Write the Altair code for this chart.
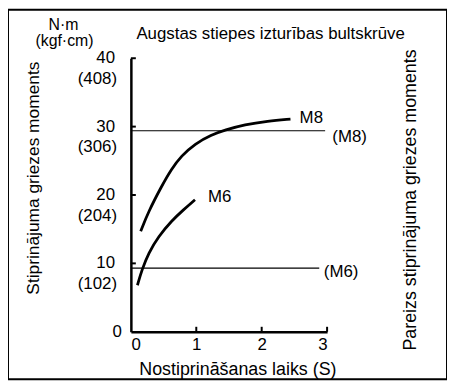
import altair as alt
import pandas as pd

FONT = "Liberation Sans"

# ---- data ----
m8_x = [0.15, 0.27, 0.47, 0.62, 0.77, 0.98, 1.23, 1.44, 1.74, 2.09, 2.44]
m8_y = [14.7, 17.6, 21.3, 23.8, 25.7, 27.5, 28.8, 29.5, 30.3, 30.8, 31.1]
m6_x = [0.10, 0.17, 0.27, 0.42, 0.62, 0.80, 0.98]
m6_y = [6.8, 9.1, 11.5, 13.9, 16.2, 17.8, 19.3]

ref_names = ["M8", "M6"]
ref_values = [29.4, 9.3]
ref_ends = [2.97, 2.88]

ann_text = ["M8", "(M8)", "M6", "(M6)"]
ann_x = [2.58, 3.08, 1.18, 2.95]
ann_y = [31.2, 28.5, 19.7, 8.8]

y_tick_values = [0, 10, 20, 30, 40]
y_tick_kgf = ["", "(102)", "(204)", "(306)", "(408)"]
x_tick_values = [0, 1, 2, 3]

title_text = "Augstas stiepes izturības bultskrūve"
y_title = "Stiprinājuma griezes moments"
y2_title = "Pareizs stiprinājuma griezes moments"
x_title = "Nostiprināšanas laiks (S)"
unit1 = "N·m"
unit2 = "(kgf·cm)"

# ---- tables ----
curves = pd.DataFrame(
    {"x": m8_x + m6_x, "y": m8_y + m6_y, "s": ["M8"] * len(m8_x) + ["M6"] * len(m6_x)}
)
refs = pd.DataFrame({"name": ref_names, "y": ref_values, "x0": [0, 0], "x1": ref_ends})
ann = pd.DataFrame({"t": ann_text, "x": ann_x, "y": ann_y})
yt = pd.DataFrame({"v": y_tick_values, "lab": [str(v) for v in y_tick_values], "kgf": y_tick_kgf})
ytk = yt[yt.v > 0]
xtk = pd.DataFrame({"v": [v for v in x_tick_values if v > 0]})

W, H = 443, 373
xs = alt.Scale(domain=[0, 3], range=[124, 322], nice=False, zero=False)
ys = alt.Scale(domain=[0, 40], range=[325, 49], nice=False, zero=False)

x_axis = alt.Axis(offset=-(H - 325), domainColor="black", domainWidth=2.5, ticks=False,
                  grid=False, values=x_tick_values, format="d", labelFont=FONT,
                  labelFontSize=17, labelColor="black", labelPadding=5, title=None)
y_axis = alt.Axis(offset=-124, domainColor="black", domainWidth=2.5, ticks=False,
                  labels=False, grid=False, title=None)

ref_layer = alt.Chart(refs).mark_rule(color="black", strokeWidth=1.2).encode(
    x=alt.X("x0:Q", scale=xs, axis=x_axis),
    x2="x1:Q",
    y=alt.Y("y:Q", scale=ys, axis=y_axis),
)

curve_layer = alt.Chart(curves).mark_line(color="black", strokeWidth=2.8,
                                          interpolate="basis", strokeCap="butt").encode(
    x=alt.X("x:Q", scale=xs, axis=x_axis),
    y=alt.Y("y:Q", scale=ys, axis=y_axis),
    detail="s:N",
)

ann_layer = alt.Chart(ann).mark_text(align="left", baseline="middle", font=FONT,
                                     fontSize=17, color="black").encode(
    x=alt.X("x:Q", scale=xs, axis=x_axis),
    y=alt.Y("y:Q", scale=ys, axis=y_axis),
    text="t:N",
)

ytick_rules = alt.Chart(ytk).mark_rule(color="black", strokeWidth=2).encode(
    y=alt.Y("v:Q", scale=ys, axis=y_axis),
    x=alt.value(124),
    x2=alt.value(129),
)
xtick_rules = alt.Chart(xtk).mark_rule(color="black", strokeWidth=2).encode(
    x=alt.X("v:Q", scale=xs, axis=x_axis),
    y=alt.value(325),
    y2=alt.value(320),
)

ylab1 = alt.Chart(yt).transform_filter("datum.v > 0").mark_text(
    align="right", baseline="middle", font=FONT, fontSize=17, color="black"
).encode(
    y=alt.Y("v:Q", scale=ys, axis=y_axis),
    x=alt.value(108),
    text="lab:N",
)
ylab0 = alt.Chart(yt).transform_filter("datum.v == 0").mark_text(
    align="right", baseline="middle", font=FONT, fontSize=17, color="black"
).encode(
    y=alt.Y("v:Q", scale=ys, axis=y_axis),
    x=alt.value(115),
    text="lab:N",
)
ylab2 = alt.Chart(yt).mark_text(align="right", baseline="middle", font=FONT,
                                fontSize=17, color="black", dy=21).encode(
    y=alt.Y("v:Q", scale=ys, axis=y_axis),
    x=alt.value(110),
    text="kgf:N",
)

def label(text, x, y, size=17, angle=0):
    return alt.Chart(pd.DataFrame({"t": [text]})).mark_text(
        align="center", baseline="middle", font=FONT, fontSize=size,
        color="black", angle=angle
    ).encode(x=alt.value(x), y=alt.value(y), text="t:N")

chart = alt.layer(
    ref_layer, curve_layer, ann_layer, ytick_rules, xtick_rules, ylab1, ylab0, ylab2,
    label(title_text, 265, 25),
    label(unit1, 56, 15, 16),
    label(unit2, 57, 32, 16),
    label(y_title, 26, 170, 17.5, 270),
    label(y2_title, 407, 192, 18, 270),
    label(x_title, 232, 364, 18),
).properties(width=W, height=H, padding=0).configure(font=FONT).configure_view(
    stroke="black", strokeWidth=2
)

chart.save("out.html", embed_options={"renderer": "svg", "actions": False})
